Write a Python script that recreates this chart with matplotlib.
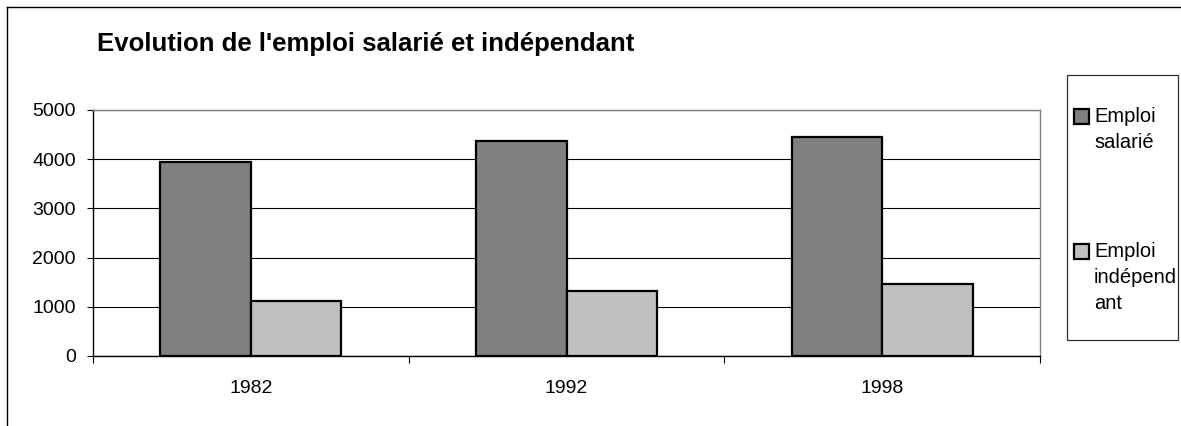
import matplotlib
matplotlib.use("Agg")
import matplotlib.pyplot as plt
from matplotlib.patches import Rectangle
from matplotlib.lines import Line2D
import numpy as np

# données
annees = ["1982", "1992", "1998"]
emploi_salarie = [3940, 4370, 4450]
emploi_independant = [1120, 1320, 1460]
series = ["Emploi\nsalarié", "Emploi\nindépend\nant"]
couleurs = ["#808080", "#c0c0c0"]
yticks = [0, 1000, 2000, 3000, 4000, 5000]

W, H = 1181, 426
plt.rcParams["font.family"] = ["Liberation Sans", "DejaVu Sans"]


def fx(px):  # pixel -> coordonnées figure
    return px / W


def fy(py):
    return 1 - py / H


fig = plt.figure(figsize=(W / 100, H / 100), dpi=100)
ax = fig.add_axes([fx(93), fy(356), fx(1040) - fx(93), (356 - 110) / H])

x = np.arange(len(annees))
w = 0.287
b1 = ax.bar(x - w / 2, emploi_salarie, w, color=couleurs[0], edgecolor="black", linewidth=1.6, zorder=3)
b2 = ax.bar(x + w / 2, emploi_independant, w, color=couleurs[1], edgecolor="black", linewidth=1.6, zorder=3)

ax.set_xlim(-0.5, len(annees) - 0.5)
ax.set_ylim(0, 5000)
ax.set_yticks(yticks)
ax.yaxis.grid(True, color="black", linewidth=0.8)
ax.set_axisbelow(True)

# ticks x aux limites de catégories, labels au centre
ax.set_xticks(np.arange(len(annees) + 1) - 0.5)
ax.set_xticklabels([])
ax.set_xticks(x, minor=True)
ax.set_xticklabels(annees, minor=True)
ax.tick_params(axis="x", which="major", length=5, width=0.8, direction="out")
ax.tick_params(axis="x", which="minor", length=0, pad=17, labelsize=14)
ax.tick_params(axis="y", length=4.5, width=0.8, pad=8, labelsize=14)

ax.spines["left"].set_color("black")
ax.spines["bottom"].set_color("black")
ax.spines["top"].set_color("#808080")
ax.spines["right"].set_color("#808080")
for s in ax.spines.values():
    s.set_linewidth(1.0)

fig.text(fx(97), fy(51), "Evolution de l'emploi salarié et indépendant",
         fontsize=18.5, fontweight="bold", va="baseline", ha="left")

# cadre du graphique (coupé à droite et en bas)
fig.add_artist(Line2D([fx(7), 1], [fy(7), fy(7)], color="black", lw=1.0, transform=fig.transFigure))
fig.add_artist(Line2D([fx(7), fx(7)], [fy(7), 0], color="black", lw=1.0, transform=fig.transFigure))

# légende
fig.add_artist(Rectangle((fx(1067), fy(340)), fx(1178) - fx(1067), (340 - 75) / H,
                         transform=fig.transFigure, facecolor="white", edgecolor="#303030", lw=0.9))
tops = [109, 244]
for bars, lab, top in zip([b1, b2], series, tops):
    fig.add_artist(Rectangle((fx(1074), fy(top + 15)), 15 / W, 15 / H, transform=fig.transFigure,
                             facecolor=bars.patches[0].get_facecolor(), edgecolor="black", lw=1.6))
    for i, line in enumerate(lab.split("\n")):
        fig.text(fx(1094), fy(top + 13 + 26 * i), line, fontsize=14.5, va="baseline", ha="left")

fig.savefig("out.png", dpi=100)
